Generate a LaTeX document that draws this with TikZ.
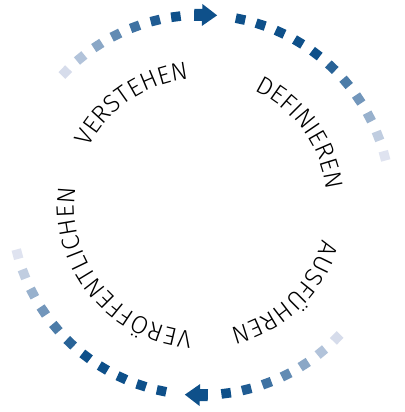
\documentclass[tikz,border=0pt]{standalone}
\usepackage{fontspec}
\usepackage{tikz}
\usetikzlibrary{decorations.text}
\newfontfamily\labelfont{Fira Sans Light}
\definecolor{dotblue}{RGB}{14,80,138}
\definecolor{dotfade}{RGB}{236,236,246}

\begin{document}
\begin{tikzpicture}[x=1pt,y=1pt,
  sq/.style={fill=dotblue!#1!dotfade},
  lbl/.style={decorate,decoration={text along path,
    text={|\labelfont\fontsize{25}{28}\selectfont|#1},text align=fit to path}}]
\useasboundingbox (-201,-207) rectangle (203,205);
% dotted arrows, the lower one is the upper one turned by 180
\foreach \r in {0,180}{
  \begin{scope}[rotate=\r]
    \foreach \a/\p in {135.6/10,129.3/26,122.9/44,116.6/62,110.3/78,103.9/92,97.6/100,
                       78/100,71.7/100,65.4/100,59.1/100,52.8/100,46.5/88,40.2/72,
                       33.9/55,27.6/38,21.3/20,15/6}
      \fill[sq=\p,shift={(\a:190)},rotate=\a] (-4.8,-4.8) rectangle (4.8,4.8);
    \fill[dotblue,shift={(88.6:190)},rotate=-1.4]
      (-11.5,-6) -- (-3.5,-6) -- (-3.5,-11) -- (11.5,0) -- (-3.5,11) -- (-3.5,6) -- (-11.5,6) -- cycle;
  \end{scope}
}
% labels
\path[lbl=VERSTEHEN] (153:126.5) arc[start angle=153,end angle=95.5,radius=126.5];
\path[lbl=DEFINIEREN] (65:126.5) arc[start angle=65,end angle=10,radius=126.5];
\path[lbl=AUSFÜHREN] (-16:126.5) arc[start angle=-16,end angle=-73.5,radius=126.5];
\path[lbl=VERÖFFENTLICHEN] (-94:126.5) arc[start angle=-94,end angle=-188,radius=126.5];
\end{tikzpicture}
\end{document}
